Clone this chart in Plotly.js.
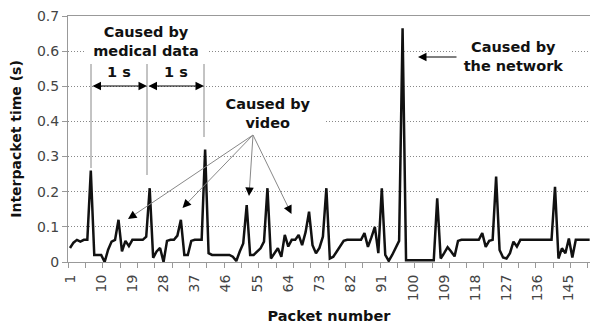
<!DOCTYPE html>
<html>
<head>
<meta charset="utf-8">
<script src="https://cdn.plot.ly/plotly-3.0.1.min.js"></script>
<style>html,body{margin:0;padding:0;background:#fff;}</style>
</head>
<body>
<div id="chart" style="width:590px;height:326px;"></div>
<script>
// Interpacket time (s) per packet
const interpacketTime = [
  0.04,0.055,0.063,0.058,0.063,0.063,0.26,0.02,0.02,0.02,
  0,0.035,0.058,0.063,0.12,0.03,0.06,0.045,0.063,0.063,
  0.063,0.063,0.072,0.21,0.012,0.03,0.04,0,0.06,0.063,
  0.063,0.075,0.12,0.02,0.02,0.06,0.063,0.063,0.063,0.32,
  0.025,0.02,0.02,0.02,0.02,0.02,0.02,0.015,0.003,0.03,
  0.053,0.162,0.02,0.02,0.03,0.039,0.058,0.21,0.01,0.025,
  0.039,0.015,0.077,0.044,0.063,0.063,0.077,0.048,0.085,0.143,
  0.048,0.025,0.04,0.072,0.21,0.01,0.015,0.03,0.044,0.06,
  0.063,0.063,0.063,0.063,0.063,0.082,0.043,0.07,0.1,0.025,
  0.21,0.02,0.003,0.02,0.04,0.06,0.665,0.005,0.005,0.005,
  0.005,0.005,0.005,0.005,0.005,0.005,0.181,0.01,0.025,0.042,
  0.03,0.016,0.06,0.063,0.063,0.063,0.063,0.063,0.063,0.082,
  0.043,0.06,0.063,0.243,0.034,0.013,0.01,0.025,0.058,0.044,
  0.063,0.063,0.063,0.063,0.063,0.063,0.063,0.063,0.063,0.063,
  0.214,0.01,0.039,0.025,0.067,0.013,0.063,0.063,0.063,0.063,
  0.063
];
const packetNumbers = interpacketTime.map((_, i) => i + 1);
const xTickValues = [1,10,19,28,37,46,55,64,73,82,91,100,109,118,127,136,145];
const xTickLabels = xTickValues.map(String);
const yTickValues = [0,0.1,0.2,0.3,0.4,0.5,0.6,0.7];
const yTickLabels = ['0','0.1','0.2','0.3','0.4','0.5','0.6','0.7'];

// pixel -> paper helpers for annotation placement (plot area 68..590 x 16..262)
const L = 68, R = 590, T = 16, B = 262;
const px = v => (v - L) / (R - L);
const py = v => (B - v) / (B - T);

const FONT = 'DejaVu Sans, Arial, sans-serif';
const txtFont = {family: FONT, size: 14.5, color: '#111'};

const annotations = [];
const shapes = [];

function label(text, x, y, opts) {
  annotations.push(Object.assign({
    xref: 'paper', yref: 'paper', x: px(x), y: py(y), text: text,
    showarrow: false, font: txtFont, xanchor: 'center', yanchor: 'middle'
  }, opts || {}));
}
function arrow(tipX, tipY, tailDx, tailDy, color, both) {
  annotations.push({
    xref: 'paper', yref: 'paper', x: px(tipX), y: py(tipY), text: '',
    showarrow: true, ax: tailDx, ay: tailDy, axref: 'pixel', ayref: 'pixel',
    arrowhead: 2, arrowsize: 1.7, arrowwidth: 1, arrowcolor: color,
    arrowside: both ? 'end+start' : 'end', startarrowhead: 2, startarrowsize: 1.7,
    standoff: 0, startstandoff: 0
  });
}
function line(x0, y0, x1, y1, color) {
  shapes.push({type: 'line', xref: 'paper', yref: 'paper',
    x0: px(x0), y0: py(y0), x1: px(x1), y1: py(y1),
    line: {color: color, width: 1}});
}

// medical data markers
line(91, 64, 91, 168, '#888');
line(147, 64, 147, 175, '#888');
line(204, 64, 204, 137, '#888');
arrow(147, 86, -56, 0, '#000', true);
arrow(204, 86, -57, 0, '#000', true);
label('<b>Caused by<br>medical data</b>', 146, 41, {bgcolor: '#fff', width: 120});
label('<b>1 s</b>', 119, 72);
label('<b>1 s</b>', 175.5, 72);

// video arrows
label('<b>Caused by<br>video</b>', 268, 113, {bgcolor: '#fff', width: 110});
const src = [253, 135];
[[128, 219], [182.5, 208], [249, 196], [291.5, 214]].forEach(t => {
  const dx = src[0] - t[0], dy = src[1] - t[1];
  const len = Math.hypot(dx, dy);
  const ux = dx / len, uy = dy / len;
  line(src[0], src[1], t[0] + ux * 7, t[1] + uy * 7, '#888');
  arrow(t[0], t[1], ux * 9, uy * 9, '#000', false);
});

// network
label('<b>Caused by<br>the network</b>', 513, 56, {bgcolor: '#fff', width: 113});
arrow(418, 57, 40, 0, '#000', false);

const data = [{
  type: 'scatter', mode: 'lines', x: packetNumbers, y: interpacketTime,
  line: {color: '#111', width: 2.5}, cliponaxis: false, hoverinfo: 'none'
}];

const layout = {
  width: 590, height: 326,
  margin: {l: L, r: 0, t: T, b: 326 - B},
  paper_bgcolor: '#fff', plot_bgcolor: '#fff',
  showlegend: false,
  font: {family: FONT, size: 14, color: '#444'},
  xaxis: {
    range: [0.42, 151.1],
    tickmode: 'array', tickvals: xTickValues, ticktext: xTickLabels,
    tickangle: -90, ticks: 'outside', ticklen: 6, tickcolor: 'rgba(0,0,0,0)',
    minor: {tick0: 0.5, dtick: 5, ticks: 'outside', ticklen: 5, tickcolor: '#999', showgrid: false},
    showline: true, linecolor: '#999', linewidth: 1, mirror: true,
    showgrid: false, zeroline: false,
    tickfont: {family: FONT, size: 14, color: '#444'},
    title: {text: '<b>Packet number</b>', font: {family: FONT, size: 14.5, color: '#111'}, standoff: 10}
  },
  yaxis: {
    range: [0, 0.7], tickmode: 'array', tickvals: yTickValues, ticktext: yTickLabels,
    ticks: 'outside', ticklen: 5, tickcolor: '#999',
    showline: true, linecolor: '#999', linewidth: 1,
    showgrid: true, gridcolor: '#888', gridwidth: 1, griddash: '1px,2px', zeroline: false,
    tickfont: {family: FONT, size: 14, color: '#444'},
    title: {text: '<b>Interpacket time (s)</b>', font: {family: FONT, size: 14, color: '#111'}, standoff: 12}
  },
  annotations: annotations,
  shapes: shapes
};

Plotly.newPlot('chart', data, layout, {staticPlot: true, displayModeBar: false});
</script>
</body>
</html>
